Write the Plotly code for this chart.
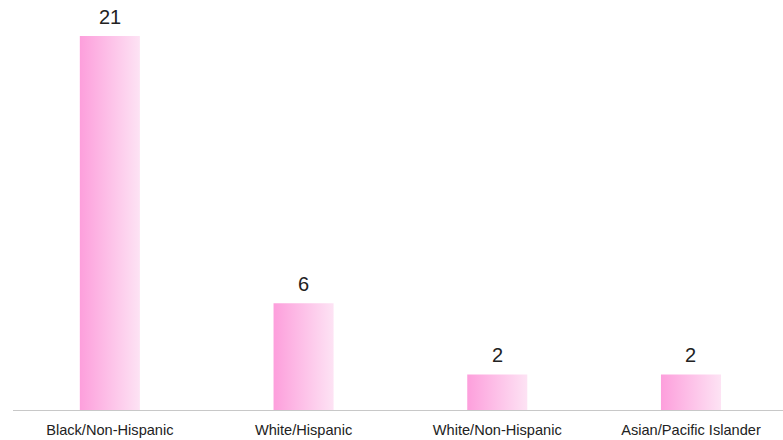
import plotly.graph_objects as go

categories = ["Black/Non-Hispanic", "White/Hispanic", "White/Non-Hispanic", "Asian/Pacific Islander"]
values = [21, 6, 2, 2]

bar_width = 0.31
grad = [[0, "#fd9fdc"], [1, "#fde3f4"]]

fig = go.Figure()
for i, (cat, v) in enumerate(zip(categories, values)):
    x0, x1 = i - bar_width / 2, i + bar_width / 2
    fig.add_trace(go.Scatter(
        x=[x0, x1, x1, x0, x0], y=[0, 0, v, v, 0],
        mode="lines", line=dict(width=0), fill="toself",
        fillgradient=dict(type="horizontal", colorscale=grad),
        hoverinfo="skip", showlegend=False, name=cat,
    ))
    fig.add_annotation(
        x=i, y=v, text=str(v), showarrow=False,
        yanchor="bottom", yshift=6,
        font=dict(family="Liberation Sans, Arial", size=20, color="#222222"),
    )

fig.update_layout(
    width=783, height=440,
    margin=dict(l=13, r=0, t=0, b=30),
    paper_bgcolor="white", plot_bgcolor="white",
    xaxis=dict(
        range=[-0.5, 3.475], tickmode="array",
        tickvals=list(range(len(categories))), ticktext=categories,
        showgrid=False, zeroline=False, showline=True,
        linecolor="#c8c8c8", linewidth=1, ticks="",
        tickfont=dict(family="Liberation Sans, Arial", size=14.6, color="#222222"),
        ticklabelstandoff=6,
    ),
    yaxis=dict(range=[0, 23.02], visible=False),
)

fig.write_html("out.html")
